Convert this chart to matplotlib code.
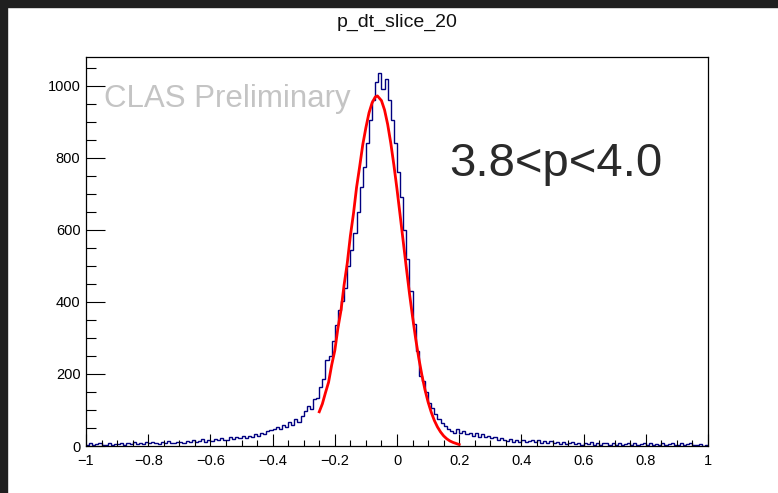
import matplotlib
matplotlib.use("Agg")
import matplotlib.pyplot as plt
import numpy as np
from matplotlib.ticker import MultipleLocator, FuncFormatter

plt.rcParams['font.family'] = ['Liberation Sans', 'DejaVu Sans']

# histogram p_dt_slice_20, 200 bins of 0.01 from -1 to 1
x_lo, x_hi, n_bins = -1.0, 1.0, 200
counts = [
    3, 7, 2, 5, 9, 3, 4, 8, 3, 6,
    5, 9, 4, 7, 5, 10, 6, 9, 6, 11,
    7, 11, 8, 6, 12, 9, 13, 8, 9, 12,
    10, 8, 15, 11, 17, 12, 14, 19, 12, 17,
    15, 20, 16, 22, 18, 16, 24, 19, 25, 21,
    27, 22, 29, 26, 33, 28, 37, 32, 41, 44,
    46, 53, 47, 59, 54, 66, 59, 74, 67, 84,
    98, 112, 104, 130, 134, 165, 185, 240, 250, 292,
    335, 378, 402, 440, 500, 545, 592, 650, 720, 775,
    840, 905, 960, 1010, 1035, 990, 1020, 960, 905, 840,
    760, 690, 600, 520, 430, 340, 265, 195, 180, 150,
    120, 106, 88, 76, 63, 56, 47, 43, 37, 46,
    35, 41, 32, 37, 29, 35, 26, 32, 24, 29,
    21, 26, 18, 23, 16, 14, 19, 12, 17, 11,
    16, 10, 15, 18, 11, 17, 9, 14, 8, 13,
    8, 11, 6, 10, 5, 9, 11, 5, 8, 4,
    9, 5, 10, 4, 8, 3, 7, 9, 4, 8,
    3, 7, 2, 6, 8, 3, 7, 2, 5, 9,
    3, 7, 2, 6, 3, 8, 2, 5, 7, 2,
    4, 7, 2, 6, 9, 3, 2, 6, 1, 4,
]

# red fit curve
fit_x = [-0.25, -0.24, -0.23, -0.22, -0.21, -0.20, -0.19, -0.18, -0.17, -0.16,
         -0.15, -0.14, -0.13, -0.12, -0.11, -0.10, -0.09, -0.08, -0.07, -0.063,
         -0.05, -0.04, -0.03, -0.02, -0.01, 0.0, 0.01, 0.02, 0.03, 0.04,
         0.05, 0.06, 0.07, 0.08, 0.09, 0.10, 0.11, 0.12, 0.13, 0.14,
         0.15, 0.16, 0.17, 0.18, 0.19, 0.20]
fit_y = [95, 117, 148, 177, 225, 265, 327, 377, 448, 507,
         583, 645, 718, 776, 837, 884, 925, 953, 969, 972,
         959, 933, 893, 841, 780, 713, 641, 568, 495, 424,
         359, 298, 244, 197, 156, 122, 94, 71, 53, 39,
         28, 20, 14, 10, 7, 4]

title = "p_dt_slice_20"
label_prelim = "CLAS Preliminary"
label_range = "3.8<p<4.0"

fig = plt.figure(figsize=(7.78, 4.93), dpi=100)
# dark strips of the screenshot frame
fig.patches.append(plt.Rectangle((0, 1 - 7 / 493), 1, 7 / 493, transform=fig.transFigure,
                                 color='#1f1f1f', zorder=-1))
fig.patches.append(plt.Rectangle((0, 0), 7 / 778, 1, transform=fig.transFigure,
                                 color='#1f1f1f', zorder=-1))

ax = fig.add_axes([86 / 778, 1 - 446 / 493, 622 / 778, 389 / 493])

edges = np.linspace(x_lo, x_hi, n_bins + 1)
ax.stairs(counts, edges, color='#000080', lw=1.0)
ax.plot(fit_x, fit_y, color='#ff0000', lw=2.0)

ax.set_xlim(x_lo, x_hi)
ax.set_ylim(0, 1080)

ax.xaxis.set_major_locator(MultipleLocator(0.2))
ax.xaxis.set_minor_locator(MultipleLocator(0.05))
ax.yaxis.set_major_locator(MultipleLocator(200))
ax.yaxis.set_minor_locator(MultipleLocator(50))
ax.xaxis.set_major_formatter(FuncFormatter(lambda v, p: ('%g' % round(v, 2)).replace('-', '\u2212')))
ax.yaxis.set_major_formatter(FuncFormatter(lambda v, p: '%g' % v))

ax.tick_params(axis='x', which='major', direction='in', length=9, width=0.8,
               labelsize=10.5, pad=6, top=False)
ax.tick_params(axis='x', which='minor', direction='in', length=4.5, width=0.8, top=False)
ax.tick_params(axis='y', which='major', direction='in', length=14, width=0.8,
               labelsize=10.5, pad=4, right=False)
ax.tick_params(axis='y', which='minor', direction='in', length=7, width=0.8, right=False)
for s in ax.spines.values():
    s.set_linewidth(0.9)

fig.text(397 / 778, 1 - 22 / 493, title, ha='center', va='center', fontsize=14, color='#111111')
ax.text(-0.942, 940, label_prelim, fontsize=22.5, color='#c4c4c4', ha='left', va='baseline')
ax.text(0.167, 751, label_range, fontsize=34, color='#2a2a2a', ha='left', va='baseline')

fig.savefig("out.png", dpi=100)
